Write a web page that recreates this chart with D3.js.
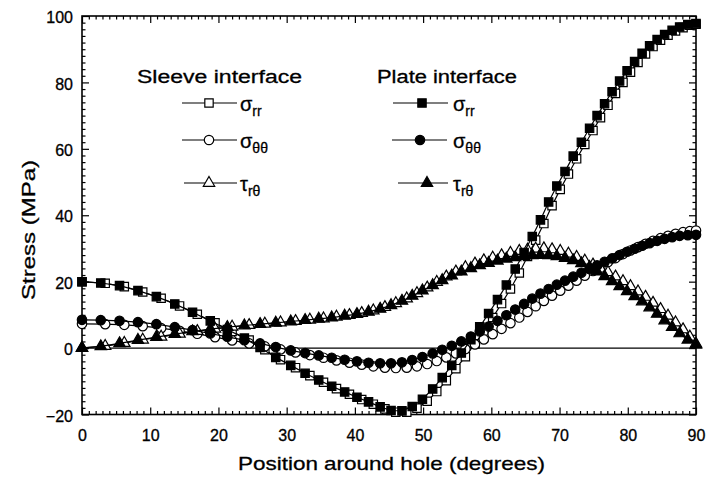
<!DOCTYPE html>
<html>
<head>
<meta charset="utf-8">
<script src="https://cdn.jsdelivr.net/npm/d3@7"></script>
<style>
  body { margin: 0; background: #fff; }
  text { font-family: "Liberation Sans", Arial, Helvetica, sans-serif; fill: #000; }
</style>
</head>
<body>
<div id="chart"></div>
<script>
// Data (degrees around the hole, stress in MPa)
const plateAngles = [0, 2.75, 5.5, 8.2, 10.9, 13.6, 16.2, 18.8, 21.3, 23.8,
  26.1, 28.4, 30.6, 32.7, 34.7, 36.6, 38.5, 40.3, 42.0, 43.7,
  45.3, 46.9, 48.4, 49.9, 51.4, 52.8, 54.2, 55.6, 57.0, 58.3,
  59.6, 60.9, 62.2, 63.5, 64.8, 66.0, 67.2, 68.4, 69.6, 70.8,
  72.0, 73.2, 74.4, 75.5, 76.6, 77.7, 78.8, 79.9, 81.0, 82.1,
  83.2, 84.3, 85.4, 86.5, 87.6, 88.8, 90];
const sleeveAngles = [0, 3.4, 6.2, 8.9, 11.6, 14.3, 16.9, 19.5, 22.0, 24.5,
  26.8, 29.1, 31.3, 33.4, 35.4, 37.3, 39.2, 41.0, 42.7, 44.4,
  46.0, 47.6, 49.1, 50.6, 52.0, 53.4, 54.8, 56.2, 57.6, 58.9,
  60.2, 61.5, 62.8, 64.1, 65.3, 66.5, 67.7, 68.9, 70.1, 71.3,
  72.5, 73.7, 74.9, 76.0, 77.1, 78.2, 79.3, 80.4, 81.5, 82.6,
  83.7, 84.8, 85.9, 87.0, 88.1, 89.1, 90];

const plateSrr = [20.0, 19.6, 18.8, 17.3, 15.5, 13.3, 10.8, 8.2, 5.6, 3.0,
  0.2, -2.8, -5.2, -7.6, -9.6, -11.5, -13.2, -14.8, -16.2, -17.7,
  -18.8, -18.9, -17.6, -15.4, -12.3, -8.9, -5.2, -1.5, 2.5, 6.4,
  10.4, 14.6, 19.0, 23.8, 28.8, 33.6, 38.6, 44.0, 48.8, 53.2,
  57.8, 62.0, 66.2, 70.0, 73.6, 77.2, 80.4, 83.5, 86.3, 88.8,
  91.0, 92.9, 94.4, 95.7, 96.7, 97.4, 97.7];
const sleeveSrr = [20.0, 19.5, 18.5, 16.9, 15.0, 12.7, 10.2, 7.6, 5.0, 2.4,
  -0.5, -3.5, -5.9, -8.3, -10.3, -12.2, -13.9, -15.5, -16.9, -18.3,
  -19.3, -19.3, -18.1, -16.0, -13.1, -9.8, -6.2, -2.6, 1.3, 5.2,
  9.2, 13.4, 17.8, 22.6, 27.6, 32.5, 37.5, 42.9, 47.8, 52.4,
  57.0, 61.3, 65.5, 69.4, 73.1, 76.7, 80.0, 83.1, 86.0, 88.6,
  90.8, 92.7, 94.2, 95.5, 96.5, 97.2, 97.5];

const plateStt = [8.5, 8.4, 8.2, 7.8, 7.2, 6.3, 5.4, 4.4, 3.4, 2.4,
  1.4, 0.3, -0.7, -1.5, -2.2, -2.9, -3.5, -4.0, -4.4, -4.6,
  -4.6, -4.3, -3.6, -2.7, -1.6, -0.5, 0.7, 2.0, 3.5, 5.0,
  6.5, 8.2, 9.9, 11.6, 13.3, 14.9, 16.4, 17.8, 19.1, 20.3,
  21.5, 22.7, 23.8, 24.9, 26.0, 27.0, 28.0, 29.0, 29.9, 30.8,
  31.6, 32.3, 32.9, 33.4, 33.8, 34.0, 34.1];
const sleeveStt = [7.3, 7.2, 7.0, 6.6, 6.0, 5.2, 4.3, 3.3, 2.3, 1.4,
  0.5, -0.4, -1.3, -2.1, -2.9, -3.7, -4.4, -5.0, -5.5, -5.9,
  -6.0, -5.9, -5.5, -4.8, -3.9, -2.8, -1.6, -0.3, 1.1, 2.6,
  4.2, 5.8, 7.5, 9.2, 10.9, 12.6, 14.2, 15.8, 17.3, 18.8,
  20.3, 21.8, 23.2, 24.6, 25.9, 27.1, 28.3, 29.4, 30.4, 31.4,
  32.3, 33.1, 33.8, 34.4, 34.9, 35.2, 35.4];

const plateTrt = [0.0, 0.5, 1.4, 2.4, 3.3, 4.2, 5.0, 5.7, 6.3, 6.8,
  7.2, 7.6, 8.0, 8.4, 8.8, 9.2, 9.7, 10.2, 10.9, 11.8,
  12.9, 14.2, 15.7, 17.3, 18.9, 20.4, 21.8, 23.0, 24.0, 24.9,
  25.6, 26.3, 26.9, 27.3, 27.7, 27.9, 28.0, 27.9, 27.6, 27.1,
  26.4, 25.5, 24.4, 23.0, 21.6, 20.1, 18.6, 17.1, 15.6, 14.0,
  12.2, 10.3, 8.3, 6.3, 4.4, 2.5, 1.0];
const sleeveTrt = [0.1, 0.6, 1.5, 2.5, 3.4, 4.3, 5.1, 5.8, 6.4, 6.9,
  7.3, 7.7, 8.1, 8.5, 8.9, 9.4, 9.9, 10.5, 11.3, 12.3,
  13.5, 14.9, 16.5, 18.2, 19.9, 21.5, 23.0, 24.3, 25.4, 26.4,
  27.2, 27.9, 28.6, 29.2, 29.6, 29.9, 30.0, 29.7, 29.2, 28.4,
  27.4, 26.3, 25.1, 23.9, 22.8, 21.5, 20.1, 18.6, 17.0, 15.4,
  13.6, 11.7, 9.7, 7.7, 5.6, 3.4, 1.3];

const xMajor = [0, 10, 20, 30, 40, 50, 60, 70, 80, 90];
const yMajor = [-20, 0, 20, 40, 60, 80, 100];

const width = 706;
const height = 481;

const svg = d3
  .select("#chart")
  .append("svg")
  .attr("width", width)
  .attr("height", height);

const x = d3.scaleLinear().domain([0, 90]).range([82, 696]);
const y = d3.scaleLinear().domain([-20, 100]).range([414.5, 16]);

// ticks, all pointing inward, on the four sides
function tickAxis(axisFn, scale, values, size, pos, withLabels, pad) {
  const ax = axisFn(scale).tickValues(values).tickSize(size).tickSizeOuter(0);
  ax.tickFormat(withLabels ? d3.format("d") : "");
  if (pad !== undefined) ax.tickPadding(pad);
  const g = svg.append("g").attr("transform", pos).call(ax);
  g.select(".domain").remove();
  g.selectAll("line").attr("stroke", "#000").attr("stroke-width", 1.2);
  g.selectAll("text")
    .attr("font-size", 16)
    .attr("font-family", '"Liberation Sans", Arial, sans-serif')
    .attr("fill", "#000")
    .attr("stroke", "#000")
    .attr("stroke-width", 0.3);
  return g;
}

const xMinor = d3.range(0, 91, 1).filter((v) => v % 10 !== 0);
const yMinor = d3.range(-20, 101, 2).filter((v) => v % 20 !== 0);

tickAxis(d3.axisBottom, x, xMinor, -3.5, `translate(0,${y(-20)})`, false);
tickAxis(d3.axisBottom, x, xMajor, -7, `translate(0,${y(-20)})`, true, 15);
tickAxis(d3.axisTop, x, xMinor, -3.5, `translate(0,${y(100)})`, false);
tickAxis(d3.axisTop, x, xMajor, -7, `translate(0,${y(100)})`, false);
tickAxis(d3.axisLeft, y, yMinor, -3.5, `translate(${x(0)},0)`, false);
const yAx = tickAxis(d3.axisLeft, y, yMajor, -7, `translate(${x(0)},0)`, true, 9);
yAx.selectAll("text").attr("dy", "0.42em");
tickAxis(d3.axisRight, y, yMinor, -3.5, `translate(${x(90)},0)`, false);
tickAxis(d3.axisRight, y, yMajor, -7, `translate(${x(90)},0)`, false);

// frame
svg
  .append("rect")
  .attr("x", x(0))
  .attr("y", y(100))
  .attr("width", x(90) - x(0))
  .attr("height", y(-20) - y(100))
  .attr("fill", "none")
  .attr("stroke", "#000")
  .attr("stroke-width", 1.6);

// zero line
svg
  .append("line")
  .attr("x1", x(0))
  .attr("x2", x(90))
  .attr("y1", y(0))
  .attr("y2", y(0))
  .attr("stroke", "#000")
  .attr("stroke-width", 1.4);

const symbols = {
  square: d3.symbol().type(d3.symbolSquare).size(70),
  circle: d3.symbol().type(d3.symbolCircle).size(70),
  triangle: d3.symbol().type(d3.symbolTriangle).size(56),
};

const series = [
  { name: "sleeve srr", xs: sleeveAngles, ys: sleeveSrr, sym: "square", filled: false },
  { name: "sleeve stt", xs: sleeveAngles, ys: sleeveStt, sym: "circle", filled: false },
  { name: "sleeve trt", xs: sleeveAngles, ys: sleeveTrt, sym: "triangle", filled: false },
  { name: "plate srr", xs: plateAngles, ys: plateSrr, sym: "square", filled: true },
  { name: "plate stt", xs: plateAngles, ys: plateStt, sym: "circle", filled: true },
  { name: "plate trt", xs: plateAngles, ys: plateTrt, sym: "triangle", filled: true },
];

const line = d3
  .line()
  .x((d) => x(d[0]))
  .y((d) => y(d[1]));

series.forEach((s) => {
  const pts = s.xs.map((a, i) => [a, s.ys[i]]);
  const g = svg.append("g");
  g.append("path")
    .attr("d", line(pts))
    .attr("fill", "none")
    .attr("stroke", "#000")
    .attr("stroke-width", 1.2);
  g.selectAll("path.mark")
    .data(pts)
    .join("path")
    .attr("class", "mark")
    .attr("d", symbols[s.sym]())
    .attr("transform", (d) => `translate(${x(d[0])},${y(d[1])})`)
    .attr("fill", s.filled ? "#000" : "#fff")
    .attr("stroke", "#000")
    .attr("stroke-width", 1.2);
});

// legend
const legendHeads = [
  { label: "Sleeve interface", x: 137, len: 165 },
  { label: "Plate interface", x: 377, len: 140 },
];
legendHeads.forEach((h) => {
  svg
    .append("text")
    .attr("x", h.x)
    .attr("y", 83)
    .attr("font-size", 18)
    .attr("stroke", "#000")
    .attr("stroke-width", 0.3)
    .attr("textLength", h.len)
    .attr("lengthAdjust", "spacingAndGlyphs")
    .text(h.label);
});

const legendRows = [
  { x0: 182, x1: 237, xm: 209, y: 103, sym: "square", filled: false, g: "σ", sub: "rr", tx: 240 },
  { x0: 182, x1: 237, xm: 209, y: 140, sym: "circle", filled: false, g: "σ", sub: "θθ", tx: 240 },
  { x0: 184, x1: 237, xm: 209, y: 183, sym: "triangle", filled: false, g: "τ", sub: "rθ", tx: 240 },
  { x0: 393, x1: 448, xm: 422, y: 103, sym: "square", filled: true, g: "σ", sub: "rr", tx: 453 },
  { x0: 392, x1: 447, xm: 420, y: 140, sym: "circle", filled: true, g: "σ", sub: "θθ", tx: 453 },
  { x0: 398, x1: 448, xm: 427, y: 183, sym: "triangle", filled: true, g: "τ", sub: "rθ", tx: 453 },
];

legendRows.forEach((r) => {
  svg
    .append("line")
    .attr("x1", r.x0)
    .attr("x2", r.x1)
    .attr("y1", r.y)
    .attr("y2", r.y)
    .attr("stroke", "#000")
    .attr("stroke-width", 1.2);
  svg
    .append("path")
    .attr("d", symbols[r.sym]())
    .attr("transform", `translate(${r.xm},${r.y})`)
    .attr("fill", r.filled ? "#000" : "#fff")
    .attr("stroke", "#000")
    .attr("stroke-width", 1.2);
  const t = svg
    .append("text")
    .attr("x", r.tx)
    .attr("y", r.y + 8)
    .attr("stroke", "#000")
    .attr("stroke-width", 0.3);
  t.append("tspan").attr("font-size", 20).text(r.g);
  t.append("tspan").attr("font-size", 14).attr("dy", 5).text(r.sub);
});

// axis titles
svg
  .append("text")
  .attr("x", 238)
  .attr("y", 470)
  .attr("font-size", 19)
  .attr("stroke", "#000")
  .attr("stroke-width", 0.3)
  .attr("textLength", 307)
  .attr("lengthAdjust", "spacingAndGlyphs")
  .text("Position around hole  (degrees)");

svg
  .append("text")
  .attr("transform", "translate(35,300) rotate(-90)")
  .attr("font-size", 19)
  .attr("stroke", "#000")
  .attr("stroke-width", 0.3)
  .attr("textLength", 140)
  .attr("lengthAdjust", "spacingAndGlyphs")
  .text("Stress (MPa)");
</script>
</body>
</html>
